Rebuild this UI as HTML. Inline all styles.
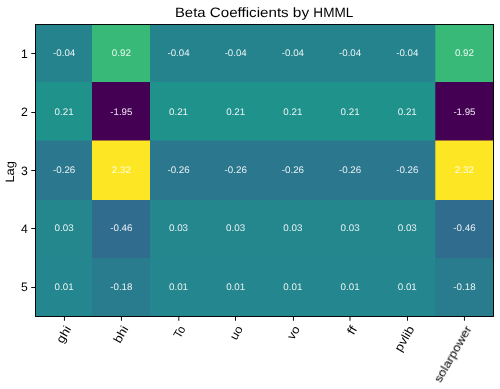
<!DOCTYPE html>
<html>
<head>
<meta charset="utf-8">
<title>Beta Coefficients by HMML</title>
<style>
  html, body { margin: 0; padding: 0; background: #ffffff; }
  body { width: 500px; height: 389px; overflow: hidden; }
  svg { display: block; }
  text { font-family: "Liberation Sans", sans-serif; fill: #000000; }
  .title { font-size: 13.6px; }
  .lab, .lab text { font-size: 12.2px; }
  #xticks text { font-size: 11.9px; }
  .ylabel { font-size: 12.1px; }
  .ann text { font-size: 9.5px; fill: #ffffff; fill-opacity: 0.9; }
  .ln { stroke: #000000; fill: none; }
</style>
</head>
<body>
<svg width="500" height="389" viewBox="0 0 500 389" text-rendering="geometricPrecision">
<rect x="0" y="0" width="500" height="389" fill="#ffffff"/>

<g id="heatmap">
<rect x="35.5" y="24.5" width="458" height="58.5" fill="#25838e"/>
<rect x="35.5" y="82" width="458" height="59.5" fill="#20928c"/>
<rect x="35.5" y="140.5" width="458" height="60.5" fill="#2a778e"/>
<rect x="35.5" y="200" width="458" height="59" fill="#24878e"/>
<rect x="35.5" y="258" width="458" height="58.5" fill="#24868e"/>
<rect x="92" y="24.5" width="58" height="58.5" fill="#38b977"/>
<rect x="435.3" y="24.5" width="58.2" height="58.5" fill="#38b977"/>
<rect x="92" y="82" width="58" height="59.5" fill="#440154"/>
<rect x="435.3" y="82" width="58.2" height="59.5" fill="#440154"/>
<rect x="92" y="140.5" width="58" height="60.5" fill="#fde725"/>
<rect x="435.3" y="140.5" width="58.2" height="60.5" fill="#fde725"/>
<rect x="92" y="200" width="58" height="59" fill="#2f6c8e"/>
<rect x="435.3" y="200" width="58.2" height="59" fill="#2f6c8e"/>
<rect x="92" y="258" width="58" height="58.5" fill="#287c8e"/>
<rect x="435.3" y="258" width="58.2" height="58.5" fill="#287c8e"/>
</g>
<g id="labels" opacity="0.999">
<g id="annotations" class="ann" text-anchor="middle">
<text x="64.14" y="56.2" textLength="22.13" lengthAdjust="spacingAndGlyphs">-0.04</text>
<text x="121.33" y="56.2" textLength="19.02" lengthAdjust="spacingAndGlyphs">0.92</text>
<text x="178.52" y="56.2" textLength="22.13" lengthAdjust="spacingAndGlyphs">-0.04</text>
<text x="235.71" y="56.2" textLength="22.13" lengthAdjust="spacingAndGlyphs">-0.04</text>
<text x="292.89" y="56.2" textLength="22.13" lengthAdjust="spacingAndGlyphs">-0.04</text>
<text x="350.08" y="56.2" textLength="22.13" lengthAdjust="spacingAndGlyphs">-0.04</text>
<text x="407.27" y="56.2" textLength="22.13" lengthAdjust="spacingAndGlyphs">-0.04</text>
<text x="464.46" y="56.2" textLength="19.02" lengthAdjust="spacingAndGlyphs">0.92</text>
<text x="64.14" y="115" textLength="19.02" lengthAdjust="spacingAndGlyphs">0.21</text>
<text x="121.33" y="115" textLength="22.13" lengthAdjust="spacingAndGlyphs">-1.95</text>
<text x="178.52" y="115" textLength="19.02" lengthAdjust="spacingAndGlyphs">0.21</text>
<text x="235.71" y="115" textLength="19.02" lengthAdjust="spacingAndGlyphs">0.21</text>
<text x="292.89" y="115" textLength="19.02" lengthAdjust="spacingAndGlyphs">0.21</text>
<text x="350.08" y="115" textLength="19.02" lengthAdjust="spacingAndGlyphs">0.21</text>
<text x="407.27" y="115" textLength="19.02" lengthAdjust="spacingAndGlyphs">0.21</text>
<text x="464.46" y="115" textLength="22.13" lengthAdjust="spacingAndGlyphs">-1.95</text>
<text x="64.14" y="173" textLength="22.25" lengthAdjust="spacingAndGlyphs">-0.26</text>
<text x="121.33" y="173" textLength="19.15" lengthAdjust="spacingAndGlyphs">2.32</text>
<text x="178.52" y="173" textLength="22.25" lengthAdjust="spacingAndGlyphs">-0.26</text>
<text x="235.71" y="173" textLength="22.25" lengthAdjust="spacingAndGlyphs">-0.26</text>
<text x="292.89" y="173" textLength="22.25" lengthAdjust="spacingAndGlyphs">-0.26</text>
<text x="350.08" y="173" textLength="22.25" lengthAdjust="spacingAndGlyphs">-0.26</text>
<text x="407.27" y="173" textLength="22.25" lengthAdjust="spacingAndGlyphs">-0.26</text>
<text x="464.46" y="173" textLength="19.15" lengthAdjust="spacingAndGlyphs">2.32</text>
<text x="64.14" y="231.05" textLength="19.15" lengthAdjust="spacingAndGlyphs">0.03</text>
<text x="121.33" y="231.05" textLength="22.25" lengthAdjust="spacingAndGlyphs">-0.46</text>
<text x="178.52" y="231.05" textLength="19.15" lengthAdjust="spacingAndGlyphs">0.03</text>
<text x="235.71" y="231.05" textLength="19.15" lengthAdjust="spacingAndGlyphs">0.03</text>
<text x="292.89" y="231.05" textLength="19.15" lengthAdjust="spacingAndGlyphs">0.03</text>
<text x="350.08" y="231.05" textLength="19.15" lengthAdjust="spacingAndGlyphs">0.03</text>
<text x="407.27" y="231.05" textLength="19.15" lengthAdjust="spacingAndGlyphs">0.03</text>
<text x="464.46" y="231.05" textLength="22.25" lengthAdjust="spacingAndGlyphs">-0.46</text>
<text x="64.14" y="289.8" textLength="19.02" lengthAdjust="spacingAndGlyphs">0.01</text>
<text x="121.33" y="289.8" textLength="22.25" lengthAdjust="spacingAndGlyphs">-0.18</text>
<text x="178.52" y="289.8" textLength="19.02" lengthAdjust="spacingAndGlyphs">0.01</text>
<text x="235.71" y="289.8" textLength="19.02" lengthAdjust="spacingAndGlyphs">0.01</text>
<text x="292.89" y="289.8" textLength="19.02" lengthAdjust="spacingAndGlyphs">0.01</text>
<text x="350.08" y="289.8" textLength="19.02" lengthAdjust="spacingAndGlyphs">0.01</text>
<text x="407.27" y="289.8" textLength="19.02" lengthAdjust="spacingAndGlyphs">0.01</text>
<text x="464.46" y="289.8" textLength="22.25" lengthAdjust="spacingAndGlyphs">-0.18</text>
</g>
<g id="axes" class="ln">
<rect x="35.5" y="24.5" width="458" height="292" stroke-width="0.95"/>
<line x1="31.25" y1="53.5" x2="35.5" y2="53.5" stroke-width="0.95"/>
<line x1="31.25" y1="112.5" x2="35.5" y2="112.5" stroke-width="0.95"/>
<line x1="31.25" y1="170.5" x2="35.5" y2="170.5" stroke-width="0.95"/>
<line x1="31.25" y1="228.5" x2="35.5" y2="228.5" stroke-width="0.95"/>
<line x1="31.25" y1="287.5" x2="35.5" y2="287.5" stroke-width="0.95"/>
<line x1="64.45" y1="316.5" x2="64.45" y2="320.75" stroke-width="0.95"/>
<line x1="121.45" y1="316.5" x2="121.45" y2="320.75" stroke-width="0.95"/>
<line x1="178.8" y1="316.5" x2="178.8" y2="320.75" stroke-width="0.95"/>
<line x1="235.5" y1="316.5" x2="235.5" y2="320.75" stroke-width="0.95"/>
<line x1="293.45" y1="316.5" x2="293.45" y2="320.75" stroke-width="0.95"/>
<line x1="350" y1="316.5" x2="350" y2="320.75" stroke-width="0.95"/>
<line x1="407.5" y1="316.5" x2="407.5" y2="320.75" stroke-width="0.95"/>
<line x1="464.45" y1="316.5" x2="464.45" y2="320.75" stroke-width="0.95"/>
</g>
<g id="yticks" class="lab" text-anchor="end">
<text x="27.7" y="57.7">1</text>
<text x="27.7" y="116.1">2</text>
<text x="27.7" y="174.5">3</text>
<text x="27.7" y="232.9">4</text>
<text x="27.7" y="291.3">5</text>
</g>
<g id="xticks" class="lab" text-anchor="end">
<text transform="translate(62.99 323.75) rotate(-60)" x="0" y="9.9" textLength="17.63" lengthAdjust="spacingAndGlyphs">ghi</text>
<text transform="translate(120.18 323.75) rotate(-60)" x="0" y="9.9" textLength="17.63" lengthAdjust="spacingAndGlyphs">bhi</text>
<text transform="translate(177.37 323.75) rotate(-60)" x="0" y="9.9" textLength="11.97" lengthAdjust="spacingAndGlyphs">To</text>
<text transform="translate(234.56 323.75) rotate(-60)" x="0" y="9.9" textLength="14.03" lengthAdjust="spacingAndGlyphs">uo</text>
<text transform="translate(291.74 323.75) rotate(-60)" x="0" y="9.9" textLength="13.65" lengthAdjust="spacingAndGlyphs">vo</text>
<text transform="translate(348.93 323.75) rotate(-60)" x="0" y="9.9" textLength="8.24" lengthAdjust="spacingAndGlyphs">ff</text>
<text transform="translate(406.12 323.75) rotate(-60)" x="0" y="9.9" textLength="27.55" lengthAdjust="spacingAndGlyphs">pvlib</text>
<text transform="translate(463.31 323.75) rotate(-60)" x="0" y="9.9" textLength="63.09" lengthAdjust="spacingAndGlyphs">solarpower</text>
</g>
<text class="ylabel" text-anchor="middle" transform="translate(14.1 171.9) rotate(-90)" textLength="21.4" lengthAdjust="spacingAndGlyphs">Lag</text>
<text class="title" y="17.3"><tspan x="174.95" textLength="30.62" lengthAdjust="spacingAndGlyphs">Beta</tspan> <tspan x="209.75" textLength="78.95" lengthAdjust="spacingAndGlyphs">Coefficients</tspan> <tspan x="292.87" textLength="16.32" lengthAdjust="spacingAndGlyphs">by</tspan> <tspan x="313.37" textLength="39.98" lengthAdjust="spacingAndGlyphs">HMML</tspan></text>
</g>
</svg>
</body>
</html>
